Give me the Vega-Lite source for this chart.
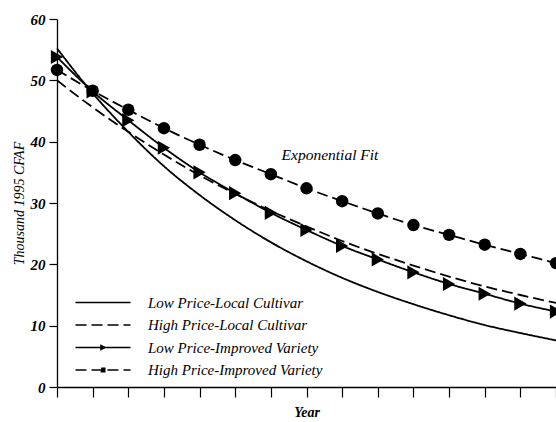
{
  "$schema": "https://vega.github.io/schema/vega-lite/v6.json",
  "autosize": "none",
  "width": 499,
  "height": 368,
  "padding": {"left": 57, "top": 19, "right": 0, "bottom": 35},
  "background": "white",
  "config": {
    "view": {"stroke": null},
    "font": "Liberation Serif",
    "axis": {"grid": false, "domainColor": "black", "tickColor": "black", "labelColor": "black", "titleColor": "black", "domainWidth": 1.3, "tickWidth": 1.2}
  },
  "datasets": {
    "notes": [{"label": "Exponential Fit", "year": 6.3, "value": 37.8}]
  },
  "data": {
    "values": [
      {"year": 0, "value": 55.2, "series": "Low Price-Local Cultivar"},
      {"year": 1, "value": 47.9, "series": "Low Price-Local Cultivar"},
      {"year": 2, "value": 41.6, "series": "Low Price-Local Cultivar"},
      {"year": 3, "value": 36.0, "series": "Low Price-Local Cultivar"},
      {"year": 4, "value": 31.3, "series": "Low Price-Local Cultivar"},
      {"year": 5, "value": 27.2, "series": "Low Price-Local Cultivar"},
      {"year": 6, "value": 23.6, "series": "Low Price-Local Cultivar"},
      {"year": 7, "value": 20.5, "series": "Low Price-Local Cultivar"},
      {"year": 8, "value": 17.8, "series": "Low Price-Local Cultivar"},
      {"year": 9, "value": 15.5, "series": "Low Price-Local Cultivar"},
      {"year": 10, "value": 13.5, "series": "Low Price-Local Cultivar"},
      {"year": 11, "value": 11.7, "series": "Low Price-Local Cultivar"},
      {"year": 12, "value": 10.1, "series": "Low Price-Local Cultivar"},
      {"year": 13, "value": 8.8, "series": "Low Price-Local Cultivar"},
      {"year": 14, "value": 7.6, "series": "Low Price-Local Cultivar"},
      {"year": 0, "value": 50.0, "series": "High Price-Local Cultivar"},
      {"year": 1, "value": 45.6, "series": "High Price-Local Cultivar"},
      {"year": 2, "value": 41.6, "series": "High Price-Local Cultivar"},
      {"year": 3, "value": 37.9, "series": "High Price-Local Cultivar"},
      {"year": 4, "value": 34.5, "series": "High Price-Local Cultivar"},
      {"year": 5, "value": 31.5, "series": "High Price-Local Cultivar"},
      {"year": 6, "value": 28.7, "series": "High Price-Local Cultivar"},
      {"year": 7, "value": 26.2, "series": "High Price-Local Cultivar"},
      {"year": 8, "value": 23.8, "series": "High Price-Local Cultivar"},
      {"year": 9, "value": 21.7, "series": "High Price-Local Cultivar"},
      {"year": 10, "value": 19.8, "series": "High Price-Local Cultivar"},
      {"year": 11, "value": 18.0, "series": "High Price-Local Cultivar"},
      {"year": 12, "value": 16.4, "series": "High Price-Local Cultivar"},
      {"year": 13, "value": 15.0, "series": "High Price-Local Cultivar"},
      {"year": 14, "value": 13.7, "series": "High Price-Local Cultivar"},
      {"year": 0, "value": 53.8, "series": "Low Price-Improved Variety"},
      {"year": 1, "value": 48.2, "series": "Low Price-Improved Variety"},
      {"year": 2, "value": 43.5, "series": "Low Price-Improved Variety"},
      {"year": 3, "value": 39.0, "series": "Low Price-Improved Variety"},
      {"year": 4, "value": 35.0, "series": "Low Price-Improved Variety"},
      {"year": 5, "value": 31.6, "series": "Low Price-Improved Variety"},
      {"year": 6, "value": 28.4, "series": "Low Price-Improved Variety"},
      {"year": 7, "value": 25.6, "series": "Low Price-Improved Variety"},
      {"year": 8, "value": 23.0, "series": "Low Price-Improved Variety"},
      {"year": 9, "value": 20.8, "series": "Low Price-Improved Variety"},
      {"year": 10, "value": 18.7, "series": "Low Price-Improved Variety"},
      {"year": 11, "value": 16.8, "series": "Low Price-Improved Variety"},
      {"year": 12, "value": 15.2, "series": "Low Price-Improved Variety"},
      {"year": 13, "value": 13.6, "series": "Low Price-Improved Variety"},
      {"year": 14, "value": 12.3, "series": "Low Price-Improved Variety"},
      {"year": 0, "value": 51.7, "series": "High Price-Improved Variety"},
      {"year": 1, "value": 48.3, "series": "High Price-Improved Variety"},
      {"year": 2, "value": 45.2, "series": "High Price-Improved Variety"},
      {"year": 3, "value": 42.2, "series": "High Price-Improved Variety"},
      {"year": 4, "value": 39.5, "series": "High Price-Improved Variety"},
      {"year": 5, "value": 37.0, "series": "High Price-Improved Variety"},
      {"year": 6, "value": 34.7, "series": "High Price-Improved Variety"},
      {"year": 7, "value": 32.4, "series": "High Price-Improved Variety"},
      {"year": 8, "value": 30.3, "series": "High Price-Improved Variety"},
      {"year": 9, "value": 28.3, "series": "High Price-Improved Variety"},
      {"year": 10, "value": 26.4, "series": "High Price-Improved Variety"},
      {"year": 11, "value": 24.8, "series": "High Price-Improved Variety"},
      {"year": 12, "value": 23.2, "series": "High Price-Improved Variety"},
      {"year": 13, "value": 21.7, "series": "High Price-Improved Variety"},
      {"year": 14, "value": 20.2, "series": "High Price-Improved Variety"}
    ]
  },
  "encoding": {
    "x": {
      "field": "year", "type": "quantitative",
      "scale": {"domain": [0, 14], "nice": false, "zero": false},
      "axis": {"title": "Year", "labels": false, "values": [0,1,2,3,4,5,6,7,8,9,10,11,12,13,14], "tickSize": 10, "titlePadding": 8, "titleFont": "Liberation Serif", "titleFontStyle": "italic", "titleFontWeight": "bold", "titleFontSize": 14}
    },
    "y": {
      "field": "value", "type": "quantitative",
      "scale": {"domain": [0, 60], "nice": false},
      "axis": {"title": "Thousand 1995 CFAF", "values": [0,10,20,30,40,50,60], "tickSize": 8, "labelPadding": 4, "labelFont": "Liberation Serif", "labelFontStyle": "italic", "labelFontWeight": "bold", "labelFontSize": 15, "titleFont": "Liberation Serif", "titleFontStyle": "italic", "titleFontWeight": "normal", "titleFontSize": 14, "titleX": -38, "titleY": 184, "titleBaseline": "middle", "titleAngle": -90}
    }
  },
  "layer": [
    {
      "mark": {"type": "line", "interpolate": "monotone", "color": "black", "strokeWidth": 1.8},
      "encoding": {
        "detail": {"field": "series"},
        "strokeDash": {
          "field": "series", "type": "nominal",
          "scale": {
            "domain": ["Low Price-Local Cultivar", "High Price-Local Cultivar", "Low Price-Improved Variety", "High Price-Improved Variety"],
            "range": [[1, 0], [11, 5], [1, 0], [11, 5]]
          },
          "legend": {
            "title": null,
            "orient": "none",
            "legendX": 16,
            "legendY": 276,
            "symbolType": "stroke",
            "symbolSize": 100,
            "symbolStrokeWidth": 1.5,
            "symbolStrokeColor": "black",
            "labelOffset": 60,
            "rowPadding": 6.5,
            "labelFont": "Liberation Serif",
            "labelFontStyle": "italic",
            "labelFontSize": 15,
            "labelColor": "black",
            "labelLimit": 300,
            "encode": {
              "symbols": {
                "update": {
                  "shape": {"signal": "datum.value === 'Low Price-Improved Variety' ? 'M-1,0L10,0M4.1,-0.4L4.9,0L4.1,0.4Z' : datum.value === 'High Price-Improved Variety' ? 'M-1,0L10,0M4.15,-0.35L4.85,-0.35L4.85,0.35L4.15,0.35Z' : 'M-1,0L10,0'"},
                  "fill": {"value": "black"},
                  "stroke": {"value": "black"},
                  "strokeWidth": {"value": 1.5},
                  "strokeDash": {"scale": "strokeDash", "field": "value"},
                  "size": {"value": 100},
                  "opacity": {"value": 1}
                }
              }
            }
          }
        }
      }
    },
    {
      "transform": [{"filter": "datum.series === 'Low Price-Improved Variety'"}],
      "mark": {"type": "point", "filled": true, "color": "black", "opacity": 1, "size": 200, "shape": "triangle-right"}
    },
    {
      "transform": [{"filter": "datum.series === 'High Price-Improved Variety'"}],
      "mark": {"type": "point", "filled": true, "color": "black", "opacity": 1, "size": 155, "shape": "circle"}
    },
    {
      "data": {"name": "notes"},
      "mark": {"type": "text", "align": "left", "baseline": "middle", "font": "Liberation Serif", "fontStyle": "italic", "fontSize": 15.5, "color": "black"},
      "encoding": {
        "text": {"field": "label"}
      }
    }
  ]
}
